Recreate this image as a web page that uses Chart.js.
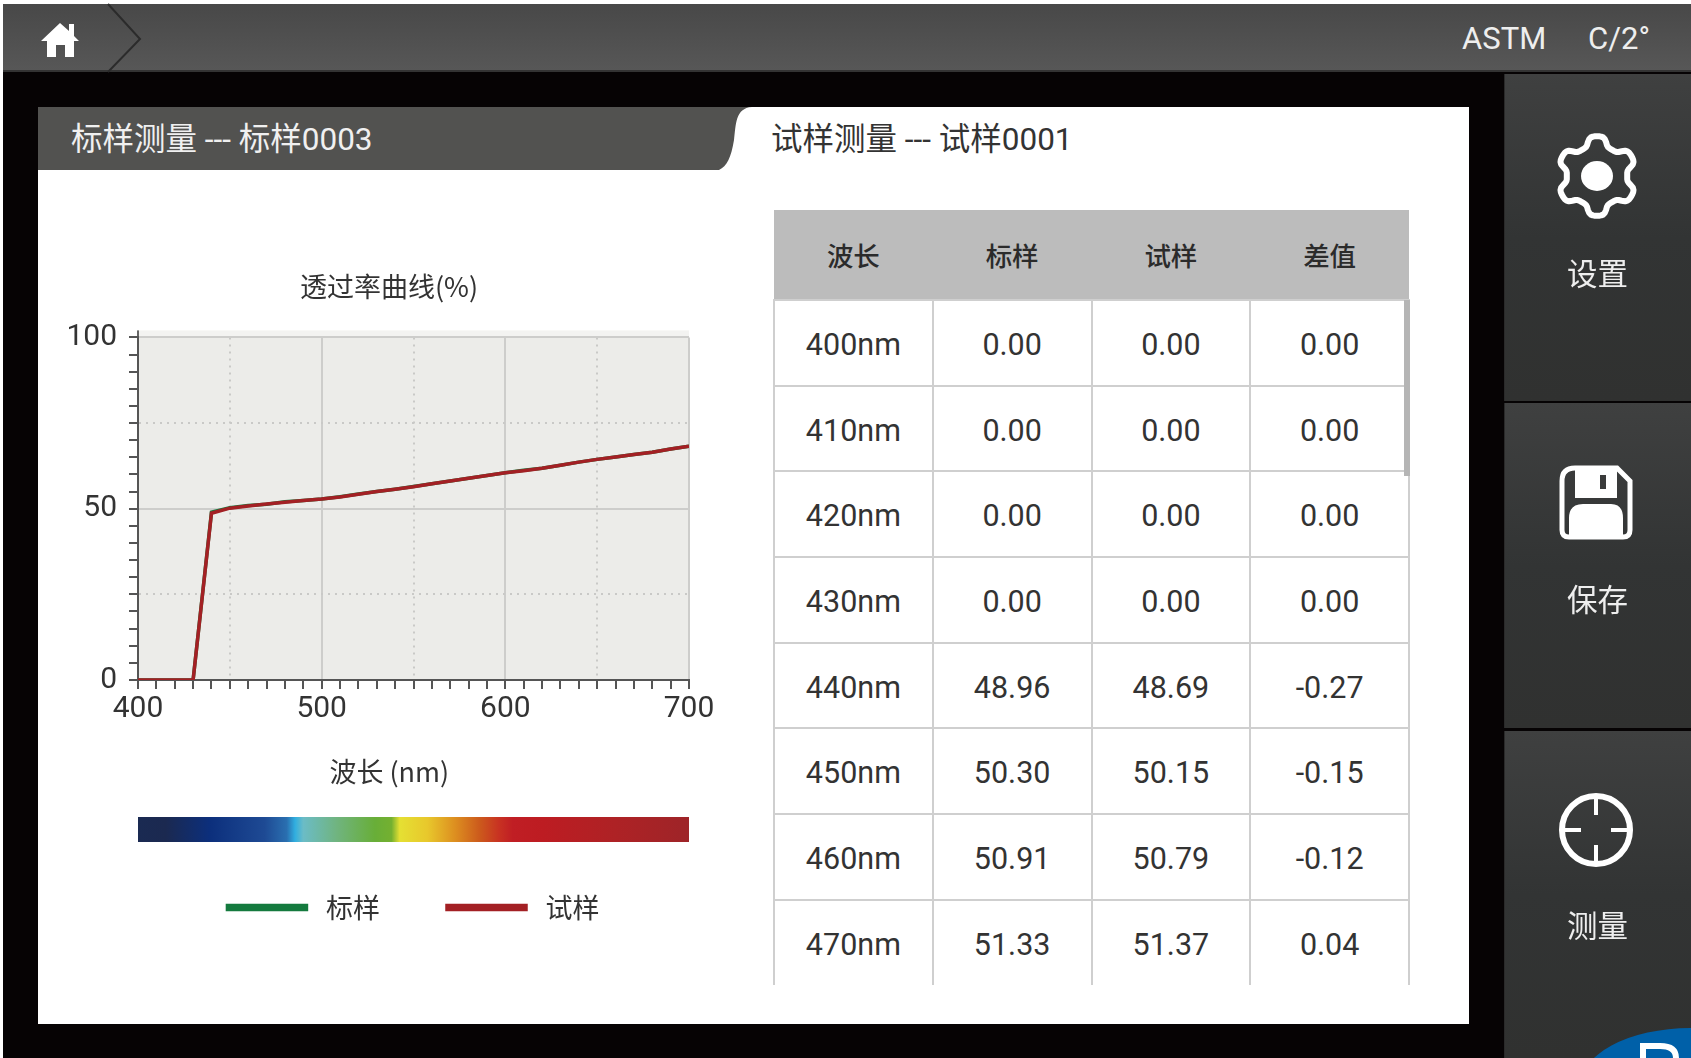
<!DOCTYPE html>
<html>
<head>
<meta charset="utf-8">
<title>透过率曲线</title>
<script src="https://cdn.jsdelivr.net/npm/chart.js@4"></script>
<style>
    * { box-sizing: border-box; }
    html, body { margin: 0; padding: 0; background: #fff; overflow: hidden; }
    body { width: 1691px; height: 1058px; position: relative; font-family: Roboto, "Noto Sans CJK SC", sans-serif; color: #333; }
    .abs { position: absolute; }
    #screen { left: 3px; top: 4px; width: 1688px; height: 1054px; background: #060304; }
    #topbar { left: 3px; top: 4px; width: 1688px; height: 68px; background: linear-gradient(#484848, #575757); border-bottom: 2px solid #333; }
    #panel { left: 38px; top: 107px; width: 1431px; height: 917px; background: #fff; }
    .toptext { top: 21px; font-size: 31px; color: #eee; line-height: 36px; }
    .tabtext { font-size: 31.5px; line-height: 36px; font-family: Roboto, "Noto Sans CJK SC", sans-serif; white-space: nowrap; }
    .sidebtn { left: 1504px; width: 187px; background: linear-gradient(#3f4040, #323434 50%, #303130); border-left: 1px solid #2a2a2a; }
    .sidelabel { left: 1504px; width: 187px; text-align: center; font-size: 30.5px; line-height: 36px; color: #eee; font-family: "Noto Sans CJK SC", sans-serif; }
    #tableWrap { left: 773px; top: 210px; width: 637px; height: 775px; overflow: hidden; }
    table { border-collapse: collapse; table-layout: fixed; width: 637px; }
    th { height: 90px; background: #bcbcbc; font-size: 26.5px; font-weight: 500; font-family: "Noto Sans CJK SC", sans-serif; color: #2b2b2b; padding: 0; }
    td { height: 85.7px; text-align: center; font-size: 30.5px; color: #333; border: 2px solid #cfcfcf; padding: 3px 0 0 0; }
    tr:last-child td { border-bottom: 0; }
    #scrollbar { left: 1404px; top: 300px; width: 6px; height: 176px; background: #b5b5b5; }
    #chartCanvas { position: absolute; left: 60px; top: 271px; }
</style>
</head>
<body>

<div id="screen" class="abs"></div>
<div id="topbar" class="abs"></div>
<svg class="abs" style="left:0;top:0" width="1691" height="1058">
    <polyline points="108,4 140,39 108,72" fill="none" stroke="#2b2b2b" stroke-width="2"/>
    <!-- home icon -->
    <path d="M60 23 L69 31 L69 24 L74 24 L74 36 L79 41 L74 41 L74 57 L65 57 L65 45 L56 45 L56 57 L47 57 L47 41 L41 41 Z" fill="#fff"/>
</svg>
<div class="abs toptext" style="left:1462px">ASTM</div>
<div class="abs toptext" style="left:1588px">C/2°</div>

<div id="panel" class="abs"></div>
<svg class="abs" style="left:0;top:0" width="1691" height="1058">
    <path d="M38 107 L752 107 C735 108 736 125 734 140 C731 158 727 166 719 170 L38 170 Z" fill="#525250"/>
</svg>
<div class="abs tabtext" style="left:71px;top:122px;color:#f0f0f0">标样测量 --- 标样0003</div>
<div class="abs tabtext" style="left:771px;top:122px;color:#333">试样测量 --- 试样0001</div>

<canvas id="chartCanvas" width="658" height="660"></canvas>

<div id="tableWrap" class="abs"><table id="dataTable"></table></div>
<div id="scrollbar" class="abs"></div>

<div class="abs sidebtn" style="top:74px;height:327px"></div>
<div class="abs sidebtn" style="top:403px;height:325px"></div>
<div class="abs sidebtn" style="top:731px;height:327px"></div>
<svg class="abs" style="left:0;top:0" width="1691" height="1058">
    <path id="gearPath" fill="none" stroke="#fff" stroke-width="6" stroke-linejoin="round"/>
    <ellipse cx="1597" cy="176" rx="16" ry="15" fill="#fff"/>
    <!-- save icon -->
    <path d="M1575 468 H1617 L1630 481 V530 Q1630 537 1623 537 H1569 Q1562 537 1562 530 V481 Q1562 468 1575 468 Z" fill="none" stroke="#fff" stroke-width="5"/>
    <path d="M1575 470 H1617 V498 H1575 Z M1569 537 V518 Q1569 504 1583 504 H1611 Q1623 504 1623 518 V537 Z" fill="#fff"/>
    <rect x="1600" y="475" width="6" height="14" fill="#3a3b3b"/>
    <!-- measure icon -->
    <circle cx="1596" cy="830" r="34" fill="none" stroke="#fff" stroke-width="6"/>
    <path d="M1596 796 V815 M1596 845 V864 M1562 830 H1581 M1611 830 H1630" stroke="#fff" stroke-width="4"/>
    <!-- corner badge -->
    <ellipse cx="1690" cy="1088" rx="111" ry="60" fill="#0060a8"/>
    <path d="M1643 1058 V1046 H1660 Q1676 1046 1676 1058 M1643 1046 V1058" fill="none" stroke="#fff" stroke-width="6"/>
</svg>
<div class="abs sidelabel" style="top:254px">设置</div>
<div class="abs sidelabel" style="top:580px">保存</div>
<div class="abs sidelabel" style="top:906px">测量</div>

<script>
const wavelengths = [400, 410, 420, 430, 440, 450, 460, 470, 480, 490, 500, 510, 520, 530, 540, 550, 560,
    570, 580, 590, 600, 610, 620, 630, 640, 650, 660, 670, 680, 690, 700];
const standardValues = [0, 0, 0, 0, 48.96, 50.30, 50.91, 51.33, 52.0, 52.4, 52.8, 53.5, 54.3, 55.0, 55.7, 56.5, 57.3,
    58.1, 58.9, 59.7, 60.5, 61.2, 61.8, 62.7, 63.6, 64.4, 65.1, 65.8, 66.5, 67.4, 68.2];
const sampleValues = [0, 0, 0, 0, 48.69, 50.15, 50.79, 51.37, 51.9, 52.4, 52.8, 53.4, 54.2, 55.0, 55.7, 56.4, 57.3,
    58.1, 58.9, 59.7, 60.5, 61.1, 61.8, 62.7, 63.6, 64.4, 65.1, 65.8, 66.5, 67.4, 68.2];

const tableHeaders = ["波长", "标样", "试样", "差值"];
const tableWavelengths = ["400nm", "410nm", "420nm", "430nm", "440nm", "450nm", "460nm", "470nm"];
const tableStandard = ["0.00", "0.00", "0.00", "0.00", "48.96", "50.30", "50.91", "51.33"];
const tableSample = ["0.00", "0.00", "0.00", "0.00", "48.69", "50.15", "50.79", "51.37"];
const tableDiff = ["0.00", "0.00", "0.00", "0.00", "-0.27", "-0.15", "-0.12", "0.04"];

// Table
document.getElementById("dataTable").innerHTML =
    "<tr>" + tableHeaders.map(h => `<th>${h}</th>`).join("") + "</tr>" +
    tableWavelengths.map((w, i) =>
        `<tr><td>${w}</td><td>${tableStandard[i]}</td><td>${tableSample[i]}</td><td>${tableDiff[i]}</td></tr>`
    ).join("");

// Gear outline
let gear = "";
for (let a = 0; a <= 360; a += 3) {
    const t = a * Math.PI / 180;
    const r = 35 + 5 * Math.tanh(2 * Math.cos(6 * t));
    gear += (a ? "L" : "M") + (1597 + r * Math.sin(t)).toFixed(1) + " " + (176 - r * Math.cos(t)).toFixed(1);
}
document.getElementById("gearPath").setAttribute("d", gear + "Z");

// Plot background and the colour strip under the axis
const plotExtras = {
    id: "plotExtras",
    afterLayout(chart) {
        // y labels hang past the narrow scale box, keep them from being clipped
        chart.scales.y.left = 0;
    },
    beforeDraw(chart) {
        const { ctx, chartArea: a } = chart;
        ctx.save();
        ctx.fillStyle = "#f3f3f1";
        ctx.fillRect(a.left, a.top - 7, a.width, 7);
        ctx.fillStyle = "#ecece9";
        ctx.fillRect(a.left, a.top, a.width, a.height);
        ctx.fillStyle = "#666";
        ctx.fillRect(a.left - 1, a.top - 7, 2, 7);
        ctx.restore();
    },
    afterDraw(chart) {
        const { ctx, chartArea: a } = chart;
        const g = ctx.createLinearGradient(a.left, 0, a.right, 0);
        [[0, "#1a2a52"], [.05, "#1b2950"], [.13, "#0c2f7c"], [.23, "#1e4a94"], [.27, "#2a6fb0"], [.285, "#30aee0"],
         [.30, "#6bbcc6"], [.36, "#70b480"], [.43, "#68ae38"], [.46, "#74b030"], [.475, "#e5e033"], [.525, "#e8c82c"],
         [.575, "#dd8f20"], [.62, "#cc5a1c"], [.655, "#c83222"], [.68, "#c01e24"], [.735, "#bd1c22"], [.865, "#ae2225"],
         [1, "#9e2428"]].forEach(s => g.addColorStop(s[0], s[1]));
        ctx.save();
        ctx.fillStyle = g;
        ctx.fillRect(a.left, a.bottom + 137, a.width, 25);
        ctx.restore();
    }
};

const toPoints = values => values.map((v, i) => ({ x: wavelengths[i], y: v }));

new Chart(document.getElementById("chartCanvas"), {
    type: "line",
    plugins: [plotExtras],
    data: {
        datasets: [
            {
                label: "\u00a0标样",
                data: toPoints(standardValues),
                borderColor: "#147a3e",
                backgroundColor: "#147a3e",
                borderWidth: 3.5,
                pointRadius: 0,
                tension: 0,
                order: 1
            },
            {
                label: "\u00a0试样",
                data: toPoints(sampleValues),
                borderColor: "#a32024",
                backgroundColor: "#a32024",
                borderWidth: 3.5,
                pointRadius: 0,
                tension: 0,
                order: 0
            }
        ]
    },
    options: {
        responsive: false,
        animation: false,
        devicePixelRatio: 1,
        layout: { padding: { left: 29, right: 29 } },
        plugins: {
            tooltip: { enabled: false },
            title: {
                display: true,
                text: "透过率曲线(%)",
                color: "#333",
                font: { family: '"Noto Sans CJK SC", sans-serif', size: 27, weight: "normal" },
                padding: { top: 0, bottom: 34 }
            },
            legend: {
                position: "bottom",
                fullSize: false,
                labels: {
                    boxWidth: 79,
                    boxHeight: 4,
                    padding: 67,
                    color: "#333",
                    font: { family: '"Noto Sans CJK SC", sans-serif', size: 27 },
                    sort: (a, b) => a.datasetIndex - b.datasetIndex
                }
            }
        },
        scales: {
            x: {
                type: "linear",
                min: 400,
                max: 700,
                afterFit: s => { s.height = 147; },
                title: {
                    display: true,
                    text: "波长 (nm)\u00a0\u00a0\u00a0\u00a0\u00a0\u00a0\u00a0\u00a0",
                    color: "#333",
                    font: { family: '"Noto Sans CJK SC", sans-serif', size: 27 },
                    padding: { top: 20, bottom: 39 }
                },
                border: {
                    color: "#555",
                    width: 2,
                    dash: c => (c.tick && c.tick.value % 100 === 50) ? [2, 5] : []
                },
                grid: {
                    color: c => {
                        if (c.tick.value % 100 === 0) return "#cdcdcb";
                        return c.tick.value % 50 === 0 ? "#c9c9c7" : "rgba(0,0,0,0)";
                    },
                    lineWidth: 2,
                    tickColor: "#555",
                    tickWidth: 2,
                    tickLength: 9
                },
                ticks: {
                    stepSize: 10,
                    autoSkip: false,
                    maxRotation: 0,
                    color: "#333",
                    padding: 2,
                    font: { family: "Roboto", size: 30 },
                    callback: v => v % 100 === 0 ? String(v) : ""
                }
            },
            y: {
                min: 0,
                max: 100,
                afterFit: s => { s.width = 49; },
                border: {
                    color: "#555",
                    width: 2,
                    dash: c => (c.tick && c.tick.value % 50 === 25) ? [2, 5] : []
                },
                grid: {
                    color: c => {
                        if (c.tick.value % 50 === 0) return "#cdcdcb";
                        return c.tick.value % 25 === 0 ? "#c9c9c7" : "rgba(0,0,0,0)";
                    },
                    lineWidth: 2,
                    tickColor: "#555",
                    tickWidth: 2,
                    tickLength: 9
                },
                ticks: {
                    stepSize: 5,
                    autoSkip: false,
                    color: "#333",
                    padding: 12,
                    font: { family: "Roboto", size: 30 },
                    callback: v => v % 50 === 0 ? String(v) : ""
                }
            }
        }
    }
});
</script>
</body>
</html>
